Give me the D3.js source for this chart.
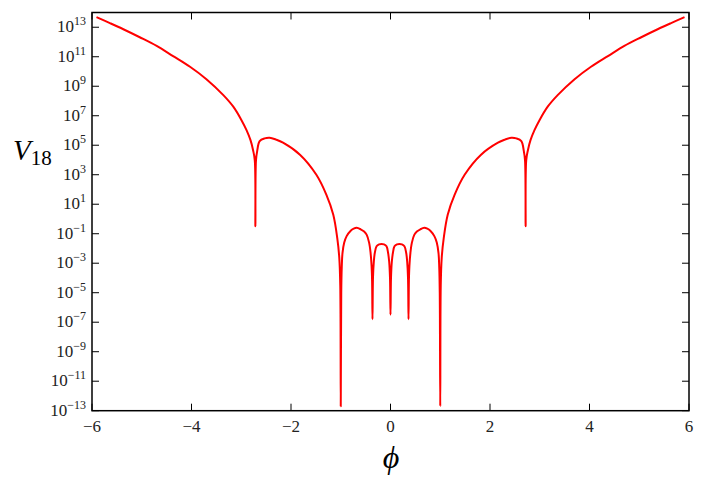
<!DOCTYPE html>
<html>
<head>
<meta charset="utf-8">
<script src="https://d3js.org/d3.v7.min.js"></script>
<style>
  body { margin: 0; background: #fff; }
</style>
</head>
<body>
<div id="chart"></div>
<script>
// values (phi, V18)
var phi = [-5.91, -5.64, -5.37, -5.04, -4.70, -4.37, -4.03, -3.70, -3.36, -3.16,
           -2.995, -2.894, -2.814, -2.762, -2.728, -2.716, -2.704, -2.68, -2.63, -2.53,
           -2.43, -2.30, -2.16, -1.82, -1.49, -1.29, -1.15, -1.07, -1.03, -1.01,
           -1.00, -0.99, -0.98, -0.965, -0.93, -0.884, -0.80, -0.74, -0.68, -0.60,
           -0.53, -0.48, -0.43, -0.40, -0.38, -0.37, -0.362, -0.352, -0.335, -0.316,
           -0.28, -0.23, -0.18, -0.13, -0.08, -0.048, -0.027, -0.01, 0,
           0.01, 0.027, 0.048, 0.08, 0.13, 0.18, 0.23, 0.28,
           0.316, 0.335, 0.352, 0.362, 0.37, 0.38, 0.40, 0.43, 0.48, 0.53,
           0.60, 0.68, 0.74, 0.80, 0.884, 0.93, 0.965, 0.98, 0.99, 1.00,
           1.01, 1.03, 1.07, 1.15, 1.29, 1.49, 1.82, 2.16, 2.30, 2.43,
           2.53, 2.63, 2.68, 2.704, 2.716, 2.728, 2.762, 2.814, 2.894, 2.995,
           3.16, 3.36, 3.70, 4.03, 4.37, 4.70, 5.04, 5.37, 5.64, 5.91];

var v18 = [4.8e13, 1.9e13, 7.3e12, 2.1e12, 5.4e11, 1.1e11, 2.1e10, 3.0e9, 2.5e8, 4.1e7,
           5.0e6, 1.05e6, 2.2e5, 4.6e4, 9.5e3, 0.32, 9.5e3, 4.0e4, 1.9e5, 2.9e5,
           3.2e5, 2.4e5, 1.5e5, 2.3e4, 1.0e3, 45, 1.95, 5.1e-2, 2.5e-3, 3.2e-5,
           2e-13, 1e-5, 5e-4, 4.9e-3, 2.5e-2, 6.6e-2, 0.16, 0.22, 0.25, 0.20,
           0.14, 8.7e-2, 2.5e-2, 4.9e-3, 6.3e-4, 6.3e-5, 1.6e-7, 1.0e-4, 1.3e-3, 4.9e-3,
           1.4e-2, 1.9e-2, 2.0e-2, 1.9e-2, 1.4e-2, 4.9e-3, 1.3e-3, 1.0e-4, 3.2e-7,
           1.0e-4, 1.3e-3, 4.9e-3, 1.4e-2, 1.9e-2, 2.0e-2, 1.9e-2, 1.4e-2,
           4.9e-3, 1.3e-3, 1.0e-4, 1.6e-7, 6.3e-5, 6.3e-4, 4.9e-3, 2.5e-2, 8.7e-2, 0.14,
           0.20, 0.25, 0.22, 0.16, 6.6e-2, 2.5e-2, 4.9e-3, 5e-4, 1e-5, 2e-13,
           3.2e-5, 2.5e-3, 5.1e-2, 1.95, 45, 1.0e3, 2.3e4, 1.5e5, 2.4e5, 3.2e5,
           2.9e5, 1.9e5, 4.0e4, 9.5e3, 0.32, 9.5e3, 4.6e4, 2.2e5, 1.05e6, 5.0e6,
           4.1e7, 2.5e8, 3.0e9, 2.1e10, 1.1e11, 5.4e11, 2.1e12, 7.3e12, 1.9e13, 4.8e13];

var xTicks = [-6, -4, -2, 0, 2, 4, 6];
var yExponents = [-13, -11, -9, -7, -5, -3, -1, 1, 3, 5, 7, 9, 11, 13];

// set the dimensions and margins of the graph
var W = 707, H = 489;
var pLeft = 92, pRight = 689, pTop = 12.5, pBottom = 410.7;
var serif = "'Liberation Serif', 'DejaVu Serif', serif";

var svg = d3.select("#chart").append("svg")
    .attr("width", W)
    .attr("height", H);

var x = d3.scaleLinear().domain([-6, 6]).range([pLeft, pRight]);
var y = d3.scaleLog().domain([1e-13, 1e14]).range([pBottom, pTop]);

var data = phi.map(function(p, i) { return {phi: p, v: v18[i]}; });

// the curve, clipped to the frame
svg.append("clipPath").attr("id", "clip")
  .append("rect")
    .attr("x", pLeft).attr("y", pTop)
    .attr("width", pRight - pLeft).attr("height", pBottom - pTop);

svg.append("path")
    .datum(data)
    .attr("clip-path", "url(#clip)")
    .attr("fill", "none")
    .attr("stroke", "#ff0000")
    .attr("stroke-width", 2)
    .attr("stroke-linejoin", "round")
    .attr("d", d3.line()
        .x(function(d) { return x(d.phi); })
        .y(function(d) { return y(d.v); })
        .curve(d3.curveCatmullRom.alpha(0.5)));

// ticks, pointing inward on all four sides
var tl = 7;
var ticks = svg.append("g").attr("stroke", "#000").attr("stroke-width", 1);
xTicks.forEach(function(t) {
    ticks.append("line").attr("x1", x(t)).attr("x2", x(t)).attr("y1", pBottom).attr("y2", pBottom - tl);
    ticks.append("line").attr("x1", x(t)).attr("x2", x(t)).attr("y1", pTop).attr("y2", pTop + tl);
});
yExponents.forEach(function(e) {
    var yy = y(Math.pow(10, e));
    ticks.append("line").attr("x1", pLeft).attr("x2", pLeft + tl).attr("y1", yy).attr("y2", yy);
    ticks.append("line").attr("x1", pRight).attr("x2", pRight - tl).attr("y1", yy).attr("y2", yy);
});

// frame
svg.append("rect")
    .attr("x", pLeft).attr("y", pTop)
    .attr("width", pRight - pLeft).attr("height", pBottom - pTop)
    .attr("fill", "none")
    .attr("stroke", "#000")
    .attr("stroke-width", 1.5);

// x tick labels
svg.selectAll(".xlab")
    .data(xTicks)
  .enter().append("text")
    .attr("class", "xlab")
    .attr("font-family", serif)
    .attr("font-size", 17)
    .attr("fill", "#222")
    .attr("x", function(d) { return x(d); })
    .attr("y", pBottom + 21)
    .attr("text-anchor", "middle")
    .text(function(d) { return d < 0 ? "\u2212" + Math.abs(d) : d; });

// y tick labels, 10 with superscript exponent
var ylab = svg.selectAll(".ylab")
    .data(yExponents)
  .enter().append("text")
    .attr("class", "ylab")
    .attr("font-family", serif)
    .attr("font-size", 17)
    .attr("fill", "#222")
    .attr("x", pLeft - 6)
    .attr("y", function(d) { return y(Math.pow(10, d)) + 5; })
    .attr("text-anchor", "end");
ylab.append("tspan").text("10");
ylab.append("tspan")
    .attr("dy", -7)
    .attr("font-size", 12)
    .text(function(d) { return d < 0 ? "\u2212" + Math.abs(d) : d; });

// axis labels
svg.append("text")
    .attr("font-family", serif)
    .attr("font-style", "italic")
    .attr("font-size", 32)
    .attr("x", 391)
    .attr("y", 468)
    .attr("text-anchor", "middle")
    .text("\u03D5");

var vl = svg.append("text")
    .attr("font-family", serif)
    .attr("font-style", "italic")
    .attr("font-size", 29)
    .attr("x", 13)
    .attr("y", 160);
vl.append("tspan").text("V");
vl.append("tspan")
    .attr("dy", 5)
    .attr("font-style", "normal")
    .attr("font-size", 21)
    .text("18");
</script>
</body>
</html>
